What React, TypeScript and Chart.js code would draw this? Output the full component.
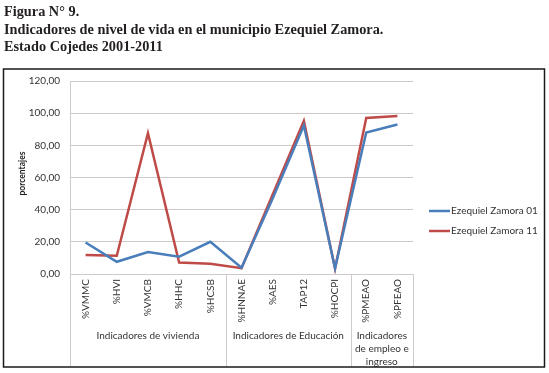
import React, { useEffect, useRef } from "react";
import { Chart, registerables } from "chart.js";

Chart.register(...registerables);

const TITLE_LINES = [
  "Figura N° 9.",
  "Indicadores de nivel de vida en el municipio Ezequiel Zamora.",
  "Estado Cojedes 2001-2011",
];
const CATEGORIES = ["%VMMC", "%HVI", "%VMCB", "%HHC", "%HCSB", "%HNNAE", "%AES", "TAP12", "%HOCPI", "%PMEAO", "%PFEAO"];
const SERIES_NAMES = ["Ezequiel Zamora 01", "Ezequiel Zamora 11"];
const SERIES_01 = [19.6, 7.6, 13.6, 10.8, 20.0, 3.9, 47.0, 92.3, 3.6, 88.0, 93.0];
const SERIES_11 = [11.8, 11.3, 87.6, 7.2, 6.4, 3.6, 49.5, 95.2, 3.4, 97.0, 98.3];
const SERIES_COLORS = ["#4a7ebb", "#be4b48"];
const GROUP_LABELS = [["Indicadores de vivienda"], ["Indicadores de Educación"], ["Indicadores", "de empleo e", "ingreso"]];
const GROUP_SIZES = [5, 4, 2];
const Y_MIN = 0;
const Y_MAX = 120;
const Y_STEP = 20;
const Y_TITLE = "porcentajes";

const SANS = "Lato, 'Open Sans', sans-serif";
const TEXT = "#333333";

const fmt = (v: number) => v.toFixed(2).replace(".", ",");

const decorPlugin = {
  id: "decor",
  beforeDraw(chart: any) {
    const { ctx, width, height } = chart;
    ctx.save();
    ctx.fillStyle = "#ffffff";
    ctx.fillRect(0, 0, width, height);
    ctx.restore();
  },
  afterDraw(chart: any) {
    const { ctx, chartArea } = chart;
    const x = chart.scales.x;
    const boxBottom = 367;
    ctx.save();
    // title
    ctx.fillStyle = "#231f20";
    ctx.font = "bold 14.3px 'Liberation Serif', serif";
    ctx.textBaseline = "alphabetic";
    ctx.textAlign = "left";
    TITLE_LINES.forEach((t, i) => ctx.fillText(t, 4, 16 + i * 17.5));

    // group separators and labels
    const half = (x.getPixelForValue(1) - x.getPixelForValue(0)) / 2;
    ctx.strokeStyle = "#d0caca";
    ctx.lineWidth = 1;
    const left = Math.round(chartArea.left) + 0.5;
    ctx.beginPath();
    ctx.moveTo(left, chartArea.bottom);
    ctx.lineTo(left, boxBottom);
    ctx.stroke();
    let idx = 0;
    GROUP_SIZES.forEach((n, gi) => {
      const start = idx;
      idx += n;
      const l = x.getPixelForValue(start) - half;
      const r = x.getPixelForValue(idx - 1) + half;
      const rx = Math.round(r) + 0.5;
      ctx.strokeStyle = "#d0caca";
      ctx.beginPath();
      ctx.moveTo(rx, chartArea.bottom);
      ctx.lineTo(rx, boxBottom);
      ctx.stroke();
      ctx.fillStyle = TEXT;
      ctx.font = `10px ${SANS}`;
      ctx.textAlign = "center";
      ctx.textBaseline = "middle";
      GROUP_LABELS[gi].forEach((t, li) => ctx.fillText(t, (l + r) / 2, 336 + li * 13));
    });

    // y title
    ctx.save();
    ctx.translate(22, (chartArea.top + chartArea.bottom) / 2 - 4);
    ctx.rotate(-Math.PI / 2);
    ctx.fillStyle = "#1e1e1e";
    ctx.font = `bold 8.5px ${SANS}`;
    ctx.textAlign = "center";
    ctx.textBaseline = "middle";
    ctx.fillText(Y_TITLE, 0, 0);
    ctx.restore();

    // legend
    chart.data.datasets.forEach((ds: any, i: number) => {
      const y = 211 + i * 20;
      ctx.strokeStyle = ds.borderColor;
      ctx.lineWidth = 2.5;
      ctx.beginPath();
      ctx.moveTo(429, y);
      ctx.lineTo(450, y);
      ctx.stroke();
      ctx.fillStyle = TEXT;
      ctx.font = `10px ${SANS}`;
      ctx.textAlign = "left";
      ctx.textBaseline = "middle";
      ctx.fillText(ds.label, 451, y);
    });

    // outer border
    ctx.strokeStyle = "#1a1a1a";
    ctx.lineWidth = 1.5;
    ctx.strokeRect(3.5, 69, 541, boxBottom - 69);
    ctx.restore();
  },
};

export default function App() {
  const ref = useRef<HTMLCanvasElement>(null);
  useEffect(() => {
    if (!ref.current) return;
    const chart = new Chart(ref.current, {
      type: "line",
      data: {
        labels: CATEGORIES,
        datasets: [
          { label: SERIES_NAMES[0], data: SERIES_01, borderColor: SERIES_COLORS[0], backgroundColor: SERIES_COLORS[0], borderWidth: 2.5, pointRadius: 0, tension: 0 },
          { label: SERIES_NAMES[1], data: SERIES_11, borderColor: SERIES_COLORS[1], backgroundColor: SERIES_COLORS[1], borderWidth: 2.5, pointRadius: 0, tension: 0 },
        ],
      },
      options: {
        responsive: false,
        animation: false,
        devicePixelRatio: 1,
        layout: { padding: { top: 81, right: 136, left: 0, bottom: 0 } },
        plugins: { legend: { display: false }, tooltip: { enabled: false }, title: { display: false } },
        scales: {
          x: {
            offset: true,
            grid: { display: false, drawTicks: false },
            border: { display: true, color: "#d0caca" },
            ticks: { maxRotation: 90, minRotation: 90, autoSkip: false, padding: 5, color: TEXT, font: { family: SANS, size: 10 } },
            afterFit: (s: any) => { s.height = 373 - 274; },
          },
          y: {
            min: Y_MIN,
            max: Y_MAX,
            grid: { color: "#cfc8c8", drawTicks: false },
            border: { display: true, color: "#d0caca" },
            ticks: { stepSize: Y_STEP, padding: 10, color: TEXT, font: { family: SANS, size: 10 }, callback: (v: any) => fmt(Number(v)) },
            afterFit: (s: any) => { s.width = 70; },
          },
        },
      },
      plugins: [decorPlugin],
    });
    return () => chart.destroy();
  }, []);
  return (
    <div style={{ position: "fixed", left: 0, top: 0, width: 549, height: 373, background: "#fff" }}>
      <canvas ref={ref} width={549} height={373} style={{ width: 549, height: 373, display: "block" }} />
    </div>
  );
}
